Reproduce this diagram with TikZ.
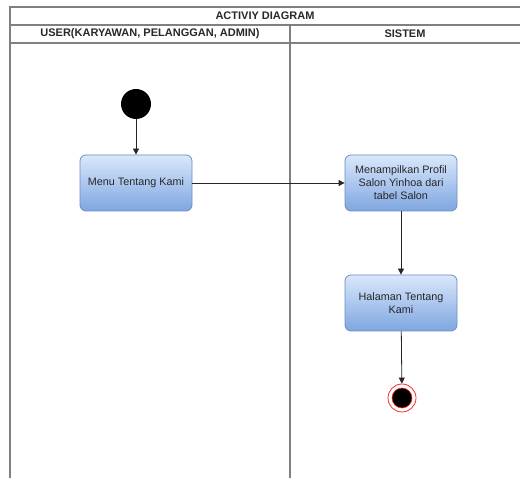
\documentclass[tikz,border=0pt]{standalone}
\usepackage{fontspec}
\setmainfont{Liberation Sans}
\usetikzlibrary{arrows.meta}
\definecolor{lanegray}{RGB}{128,128,128}
\definecolor{boxedge}{RGB}{108,142,191}
\definecolor{boxtop}{RGB}{218,232,252}
\definecolor{boxbot}{RGB}{126,166,224}
\definecolor{txt}{RGB}{40,40,40}
\definecolor{endred}{RGB}{255,40,40}
\tikzset{
  lane/.style={draw=lanegray, line width=1.3pt},
  act/.style={draw=boxedge, line width=0.8pt, rounded corners=6pt,
    top color=boxtop, bottom color=boxbot,
    minimum width=112pt, minimum height=56pt, align=center,
    text=txt, font=\fontsize{10.8}{13}\selectfont, inner sep=2pt},
  hdr/.style={font=\bfseries\fontsize{11}{13}\selectfont, text=txt},
  flow/.style={draw=black!85, line width=0.8pt,
    -{Triangle[length=6pt,width=6pt]}},
}
\begin{document}
\begin{tikzpicture}[x=1pt,y=-1pt]
\useasboundingbox (0,0) rectangle (520,478);
% swimlane frame
\draw[lane] (530,7) -- (10,7) -- (10,490);
\draw[lane] (10,25) -- (530,25);
\draw[lane] (10,43) -- (530,43);
\draw[lane] (290,25) -- (290,490);
\node[hdr] (title) at (265,16) {ACTIVIY DIAGRAM};
\node[hdr] (laneuser) at (150,34) {USER(KARYAWAN, PELANGGAN, ADMIN)};
\node[hdr] (lanesys) at (405,34) {SISTEM};
% activity nodes
\node[circle, fill=black, minimum size=30pt, inner sep=0pt] (start) at (136,104) {};
\node[act] (menu) at (136,183) {Menu Tentang Kami};
\node[act] (profil) at (401,183) {Menampilkan Profil\\Salon Yinhoa dari\\tabel Salon};
\node[act] (halaman) at (401,303) {Halaman Tentang\\Kami};
\node[circle, draw=endred, fill=white, line width=0.8pt, minimum size=28pt, inner sep=0pt] (final) at (402,398) {};
\node[circle, draw=endred, fill=black, line width=0.6pt, minimum size=20pt, inner sep=0pt] (finalin) at (final.center) {};
% control flow
\draw[flow] (start) -- (menu);
\draw[flow] (menu) -- (profil);
\draw[flow] (profil) -- (halaman);
\draw[flow] (halaman) -- (final);
\end{tikzpicture}
\end{document}
